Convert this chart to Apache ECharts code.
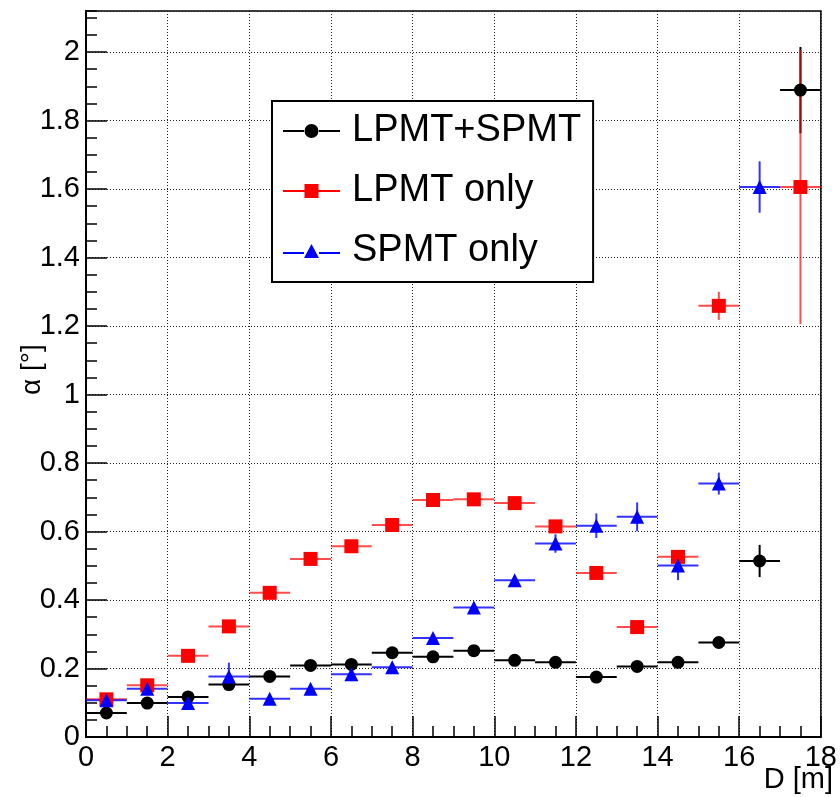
<!DOCTYPE html>
<html>
<head>
<meta charset="utf-8">
<script src="https://cdn.jsdelivr.net/npm/echarts@6/dist/echarts.min.js"></script>
<style>
html,body{margin:0;padding:0;background:#fff;}
#chart{width:840px;height:797px;}
</style>
</head>
<body>
<div id="chart"></div>
<script>
// ---- data ----
const seriesNames = ['LPMT+SPMT', 'LPMT only', 'SPMT only'];
const xTicks = [0, 2, 4, 6, 8, 10, 12, 14, 16, 18];
const binHalfWidth = 0.5;

const bothD = [0.5,1.5,2.5,3.5,4.5,5.5,6.5,7.5,8.5,9.5,10.5,11.5,12.5,13.5,14.5,15.5,16.5,17.5];
const bothAlpha = [0.070,0.099,0.117,0.153,0.177,0.209,0.212,0.246,0.234,0.252,0.224,0.218,0.175,0.206,0.218,0.276,0.514,1.889];
const bothErr = [0.008,0.008,0.008,0.008,0.008,0.008,0.008,0.008,0.008,0.008,0.008,0.008,0.008,0.008,0.010,0.012,0.047,0.126];

const lpmtD = [0.5,1.5,2.5,3.5,4.5,5.5,6.5,7.5,8.5,9.5,10.5,11.5,12.5,13.5,14.5,15.5,17.5];
const lpmtAlpha = [0.110,0.151,0.237,0.323,0.421,0.520,0.557,0.619,0.692,0.694,0.683,0.615,0.479,0.321,0.526,1.259,1.606];
const lpmtErr = [0.008,0.008,0.008,0.008,0.008,0.008,0.008,0.008,0.008,0.008,0.008,0.008,0.008,0.012,0.020,0.041,0.400];

const spmtD = [0.5,1.5,2.5,3.5,4.5,5.5,6.5,7.5,8.5,9.5,10.5,11.5,12.5,13.5,14.5,15.5,16.5];
const spmtAlpha = [0.107,0.141,0.099,0.177,0.112,0.141,0.183,0.204,0.289,0.378,0.458,0.565,0.617,0.643,0.501,0.740,1.606];
const spmtErr = [0.010,0.015,0.010,0.040,0.010,0.010,0.020,0.012,0.012,0.012,0.012,0.027,0.036,0.042,0.043,0.032,0.075];

// ---- helpers ----
function zip(xs, ys, es) { return xs.map((x, i) => [x, ys[i], es[i]]); }

function errorBarSeries(name, data, color, legendColor) {
  return {
    name: name,
    type: 'custom',
    clip: true,
    silent: true,
    data: data,
    itemStyle: { color: legendColor },
    renderItem: function (params, api) {
      const x = api.value(0), y = api.value(1), e = api.value(2);
      const pL = api.coord([x - binHalfWidth, y]);
      const pR = api.coord([x + binHalfWidth, y]);
      const pT = api.coord([x, y + e]);
      const pB = api.coord([x, y - e]);
      const style = { stroke: color, lineWidth: 2 };
      return {
        type: 'group',
        children: [
          { type: 'line', shape: { x1: pL[0], y1: pL[1], x2: pR[0], y2: pR[1] }, style: style },
          { type: 'line', shape: { x1: pT[0], y1: pT[1], x2: pB[0], y2: pB[1] }, style: style }
        ]
      };
    },
    encode: { x: 0, y: 1 }
  };
}

function markerSeries(name, data, symbol, size, color) {
  return {
    name: name,
    type: 'scatter',
    data: data,
    symbol: symbol,
    symbolSize: size,
    itemStyle: { color: color, opacity: 1 },
    encode: { x: 0, y: 1 },
    emphasis: { disabled: true }
  };
}

const circleIcon = 'path://M0,6 L21,6 L21,8 L0,8 Z M36,6 L57,6 L57,8 L36,8 Z M28.5,0 A7,7 0 1 1 28.5,14 A7,7 0 1 1 28.5,0 Z';
const squareIcon = 'path://M0,6 L21.5,6 L21.5,8 L0,8 Z M35.5,6 L57,6 L57,8 L35.5,8 Z M21.5,0 L35.5,0 L35.5,14 L21.5,14 Z';
const triIcon = 'path://M0,8 L21,8 L21,10 L0,10 Z M36,8 L57,8 L57,10 L36,10 Z M28.5,0 L36,14 L21,14 Z';

const FONT = 'Liberation Sans, Arial, Helvetica, sans-serif';

const chart = echarts.init(document.getElementById('chart'), null, { renderer: 'canvas' });

const option = {
  backgroundColor: '#ffffff',
  animation: false,
  textStyle: { fontFamily: FONT },
  grid: {
    left: 86, top: 11, width: 747, height: 726,
    show: true, borderColor: '#000', borderWidth: 1.5, backgroundColor: 'transparent'
  },
  xAxis: {
    type: 'value', min: 0, max: 18, interval: 2,
    axisLine: { show: true, onZero: false, lineStyle: { color: '#000', width: 2 } },
    axisTick: { show: true, inside: true, length: 21, lineStyle: { color: '#000', width: 1.5 } },
    minorTick: { show: true, splitNumber: 4, length: 11, lineStyle: { color: '#000', width: 1.5 } },
    axisLabel: {
      color: '#000', fontSize: 29, fontFamily: FONT, margin: 6,
      formatter: function (v) { return xTicks.indexOf(v) >= 0 ? String(v) : ''; }
    },
    splitLine: { show: true, lineStyle: { color: '#222', width: 1, type: [1, 2] } }
  },
  yAxis: [{
    type: 'value', min: 0, max: 2.12, interval: 0.2,
    axisLine: { show: true, onZero: false, lineStyle: { color: '#000', width: 2 } },
    axisTick: { show: true, inside: true, length: 21, lineStyle: { color: '#000', width: 1.5 } },
    axisLabel: {
      color: '#000', fontSize: 29, fontFamily: FONT, margin: 6,
      showMaxLabel: false,
      formatter: function (v) { return String(Math.round(v * 10) / 10); }
    },
    splitLine: { show: true, lineStyle: { color: '#222', width: 1, type: [1, 2] } }
  }, {
    type: 'value', min: 0, max: 2.12, interval: 0.05, position: 'left',
    axisLine: { show: false },
    axisTick: { show: true, inside: true, length: 11, lineStyle: { color: '#000', width: 1.5 } },
    axisLabel: { show: false },
    splitLine: { show: false }
  }],
  legend: {
    orient: 'vertical',
    left: 272, top: 101,
    padding: [11, 12, 12, 11],
    itemGap: 22,
    itemWidth: 57, itemHeight: 14,
    backgroundColor: '#fff',
    borderColor: '#000', borderWidth: 2,
    selectedMode: false,
    textStyle: { color: '#000', fontSize: 38, fontFamily: FONT, lineHeight: 38, padding: [0, 0, 0, 7] },
    data: [
      { name: seriesNames[0], icon: circleIcon, itemStyle: { color: '#000' } },
      { name: seriesNames[1], icon: squareIcon, itemStyle: { color: '#ff0000' } },
      { name: seriesNames[2], icon: triIcon, itemStyle: { color: '#0000ff' } }
    ]
  },
  graphic: [
    {
      type: 'text', right: 7, top: 765,
      style: { text: 'D [m]', font: '29px ' + FONT, fill: '#000' }
    },
    {
      type: 'text', x: 18, y: 395, rotation: Math.PI / 2,
      style: { text: 'α [°]', font: '28px ' + FONT, fill: '#000', textAlign: 'left', textVerticalAlign: 'top' }
    }
  ],
  series: [
    errorBarSeries(seriesNames[0], zip(bothD, bothAlpha, bothErr), '#000', '#000'),
    markerSeries(seriesNames[0], zip(bothD, bothAlpha, bothErr), 'circle', 13, '#000'),
    errorBarSeries(seriesNames[1], zip(lpmtD, lpmtAlpha, lpmtErr), 'rgba(255,0,0,0.7)', '#ff0000'),
    markerSeries(seriesNames[1], zip(lpmtD, lpmtAlpha, lpmtErr), 'rect', 14, '#ff0000'),
    errorBarSeries(seriesNames[2], zip(spmtD, spmtAlpha, spmtErr), 'rgba(0,0,255,0.8)', '#0000ff'),
    markerSeries(seriesNames[2], zip(spmtD, spmtAlpha, spmtErr), 'triangle', 14, '#0000ff')
  ]
};

chart.setOption(option);
</script>
</body>
</html>
